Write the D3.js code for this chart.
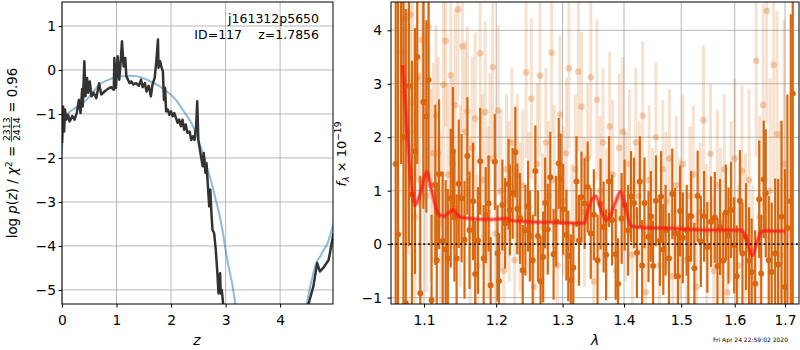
<!DOCTYPE html>
<html>
<head>
<meta charset="utf-8">
<script src="https://cdn.jsdelivr.net/npm/d3@7"></script>
<style>
  body { margin: 0; background: #fff; }
  text { font-family: "DejaVu Sans", sans-serif; }
</style>
</head>
<body>
<script>
// canvas
var width = 800
var height = 350

// ---- left panel: redshift probability ----
const pzTicksX = [0, 1, 2, 3, 4]
const pzTicksY = [-5, -4, -3, -2, -1, 0, 1]

// noisy log p(z) curve (dark)
const pzZ = [0, 0.02, 0.04, 0.055, 0.08, 0.11, 0.14, 0.19, 0.23, 0.27, 0.31, 0.34, 0.37, 0.38, 0.41, 0.43, 0.46, 0.48,
  0.51, 0.54, 0.58, 0.63, 0.68, 0.72, 0.78, 0.84, 0.9, 0.95, 0.96, 0.99, 1.02, 1.05, 1.08, 1.1, 1.13, 1.16, 1.18,
  1.21, 1.24, 1.27, 1.31, 1.36, 1.41, 1.45, 1.48, 1.52, 1.55, 1.59, 1.63, 1.66, 1.7, 1.73, 1.76, 1.77, 1.8, 1.82,
  1.85, 1.87, 1.89, 1.91, 1.94, 1.97, 2.0, 2.03, 2.06, 2.09, 2.12, 2.15, 2.18, 2.21, 2.24, 2.27, 2.3, 2.34, 2.37,
  2.4, 2.43, 2.46, 2.48, 2.5, 2.52, 2.55, 2.58, 2.6, 2.63, 2.65, 2.68, 2.7, 2.72, 2.74, 2.76, 2.79, 2.82, 2.85,
  2.87, 2.9, 2.91, 2.93, 2.96, 3.05, 3.3, 4.2, 4.45, 4.52, 4.61, 4.68, 4.73, 4.79, 4.89, 4.98]
const pzLog = [-1.66, -0.83, -1.4, -0.9, -1.13, -1.02, -1.17, -1.05, -1.13, -0.98, -0.68, -0.98, -0.43, -0.83, 0.2,
  -0.6, -0.18, -0.52, -0.26, -0.6, -0.52, -0.64, -0.3, -0.56, -0.49, -0.43, -0.39, -0.45, 0.27, -0.41, 0.31, -0.22,
  0.27, 0.65, 0.08, 0.27, -0.14, -0.22, -0.3, -0.26, -0.33, -0.3, -0.36, -0.22, -0.39, -0.3, -0.49, -0.36, -0.6,
  -0.33, -0.18, 0.2, 0.69, 0.05, 0.2, 0.08, -0.03, -0.68, -0.41, -0.94, -0.9, -1.02, -0.94, -1.05, -0.98, -1.09,
  -1.2, -1.13, -1.28, -1.13, -1.36, -1.24, -1.43, -1.4, -1.59, -1.51, -1.59, -1.28, -0.71, -1.59, -1.74, -1.97,
  -2.19, -1.89, -2.34, -2.12, -2.72, -3.1, -2.72, -3.25, -3.63, -3.71, -4.09, -4.62, -5.08, -4.62, -5.08, -5.0,
  -5.38, -6.5, -7.5, -7.5, -5.8, -5.32, -4.92, -4.39, -4.58, -4.5, -4.32, -3.71]

// smooth template fit (light blue)
const fitZ = [0, 0.02, 0.05, 0.1, 0.2, 0.3, 0.45, 0.6, 0.69, 0.8, 0.9, 1.0, 1.12, 1.25, 1.36, 1.45, 1.54, 1.65,
  1.79, 1.9, 2.03, 2.12, 2.21, 2.3, 2.37, 2.45, 2.52, 2.58, 2.64, 2.7, 2.76, 2.82, 2.88, 2.94, 3.0, 3.06, 3.13,
  3.2, 3.3, 3.5, 3.8, 4.1, 4.35, 4.49, 4.58, 4.67, 4.73, 4.8, 4.87, 4.92, 4.98]
const fitLog = [-1.9, -1.3, -1.1, -1.0, -0.9, -0.82, -0.68, -0.45, -0.33, -0.25, -0.2, -0.16, -0.14, -0.13, -0.14,
  -0.17, -0.21, -0.28, -0.37, -0.47, -0.6, -0.73, -0.9, -1.06, -1.2, -1.42, -1.66, -1.88, -2.12, -2.38, -2.65,
  -2.95, -3.25, -3.62, -4.09, -4.5, -4.92, -5.5, -6.2, -7.0, -7.4, -7.0, -6.1, -5.3, -4.77, -4.36, -4.25, -4.09,
  -3.94, -3.75, -3.48]

// ---- right panel: spectrum ----
const specTicksX = [1.1, 1.2, 1.3, 1.4, 1.5, 1.6, 1.7]
const specTicksY = [-1, 0, 1, 2, 3, 4]

// faint (second) spectrum
const lightWave = [1.071, 1.075, 1.079, 1.082, 1.085, 1.088, 1.091, 1.094, 1.097, 1.100, 1.103, 1.106, 1.109, 1.112,
  1.116, 1.119, 1.122, 1.126, 1.129, 1.132, 1.136, 1.139, 1.142, 1.146, 1.149, 1.152, 1.156, 1.159, 1.163, 1.166,
  1.170, 1.173, 1.177, 1.180, 1.184, 1.188, 1.191, 1.195, 1.199, 1.203, 1.207, 1.211, 1.215, 1.219, 1.223, 1.227,
  1.231, 1.235, 1.239, 1.244, 1.248, 1.252, 1.256, 1.261, 1.265, 1.269, 1.274, 1.278, 1.283, 1.287, 1.292, 1.296,
  1.301, 1.306, 1.310, 1.315, 1.320, 1.325, 1.330, 1.335, 1.340, 1.345, 1.350, 1.355, 1.360, 1.365, 1.371, 1.376,
  1.381, 1.387, 1.392, 1.398, 1.403, 1.409, 1.414, 1.420, 1.426, 1.432, 1.437, 1.443, 1.449, 1.455, 1.461, 1.467,
  1.473, 1.479, 1.485, 1.491, 1.497, 1.503, 1.510, 1.516, 1.522, 1.528, 1.535, 1.541, 1.547, 1.554, 1.560, 1.567,
  1.573, 1.580, 1.586, 1.593, 1.600, 1.607, 1.614, 1.621, 1.628, 1.635, 1.642, 1.649, 1.656, 1.663, 1.670, 1.677,
  1.684, 1.691, 1.698]
const lightFlux = [3.6, 4.22, 2.1, 4.29, 2.66, 0.5, 3.12, 1.2, 3.82, 2.66, 0.9, 4.06, 1.1, 1.7, 2.4, 1.7, 0.4, 2.98,
  3.8, 1.3, 3.16, 1.5, 2.6, 4.39, 0.9, 3.7, 2.1, 2.48, 0.3, 1.8, 2.35, -0.4, 3.57, 1.2, 2.47, 0.6, 1.6, 3.31, 0.2,
  2.5, 1.0, -0.5, 1.4, 0.8, 1.9, -0.3, 1.3, 0.5, 1.1, 3.21, 0.7, 2.72, -0.8, 1.5, 3.15, 0.3, 1.9, 0.9, 3.58, 1.2,
  -0.4, 2.42, 0.8, 1.7, 3.29, 0.1, 1.4, 3.23, 2.57, 0.6, 1.6, 3.12, -0.7, 2.7, 1.0, 1.9, 0.4, 2.2, 1.3, -0.5, 1.8,
  2.1, 0.7, 1.5, -0.2, 1.9, 0.9, 2.4, -0.9, 1.2, 0.5, 2.0, -0.4, 1.4, 0.8, 1.6, -0.6, 1.1, 0.3, 1.5, -0.3, 0.9,
  1.3, -0.8, 0.6, 2.32, 0.2, 1.69, -0.5, 1.1, 0.4, 1.4, -0.9, 0.8, 1.6, -0.4, 1.37, 0.1, 1.2, -0.6, 3.43, 0.5,
  2.6, 4.36, 1.0, 3.35, 2.06, -0.2, 1.5]
const lightErr = [2.0, 2.0, 2.3, 2.1, 2.0, 2.1, 1.9, 2.0, 1.8, 1.9, 1.8, 1.7, 1.8, 1.7,
  1.7, 1.8, 1.7, 1.7, 1.6, 1.7, 1.7, 1.6, 1.8, 1.7, 1.7, 1.6, 1.7, 1.6, 1.7, 1.7,
  1.6, 1.7, 1.6, 1.6, 1.7, 1.6, 1.6, 1.7, 1.5, 1.6, 1.5, 1.4, 1.4, 1.5, 1.4, 1.4,
  1.5, 1.4, 1.4, 1.6, 1.4, 1.5, 1.4, 1.5, 1.5, 1.4, 1.4, 1.4, 1.5, 1.4, 1.4, 1.5,
  1.4, 1.4, 1.5, 1.4, 1.4, 1.5, 1.4, 1.4, 1.4, 1.5, 1.4, 1.5, 1.4, 1.4, 1.4, 1.4,
  1.4, 1.4, 1.4, 1.4, 1.4, 1.4, 1.4, 1.4, 1.4, 1.4, 1.4, 1.4, 1.3, 1.4, 1.3, 1.3,
  1.3, 1.3, 1.3, 1.3, 1.3, 1.3, 1.3, 1.3, 1.3, 1.4, 1.3, 1.4, 1.3, 1.3, 1.4, 1.4,
  1.4, 1.4, 1.5, 1.5, 1.5, 1.5, 1.6, 1.6, 1.7, 1.7, 1.8, 1.9, 1.9, 2.1, 2.1, 2.3,
  2.3, 2.5, 2.7]

// main spectrum (dark orange)
const darkWave = [1.063, 1.066, 1.070, 1.073, 1.076, 1.080, 1.084, 1.088, 1.091, 1.095, 1.099, 1.103, 1.106, 1.110,
  1.115, 1.117, 1.120, 1.125, 1.129, 1.132, 1.136, 1.139, 1.141, 1.144, 1.147, 1.151, 1.155, 1.159, 1.162, 1.167,
  1.170, 1.174, 1.177, 1.182, 1.185, 1.189, 1.192, 1.198, 1.202, 1.204, 1.209, 1.213, 1.218, 1.220, 1.224, 1.228,
  1.231, 1.235, 1.239, 1.243, 1.247, 1.250, 1.254, 1.258, 1.262, 1.266, 1.270, 1.273, 1.277, 1.281, 1.286, 1.290,
  1.294, 1.297, 1.301, 1.306, 1.309, 1.313, 1.317, 1.322, 1.326, 1.330, 1.335, 1.340, 1.345, 1.350, 1.356, 1.361,
  1.366, 1.370, 1.375, 1.380, 1.386, 1.390, 1.396, 1.401, 1.407, 1.412, 1.417, 1.422, 1.427, 1.431, 1.435, 1.442,
  1.446, 1.450, 1.455, 1.462, 1.464, 1.468, 1.472, 1.478, 1.484, 1.489, 1.494, 1.498, 1.503, 1.510, 1.513, 1.518,
  1.524, 1.530, 1.536, 1.542, 1.548, 1.555, 1.562, 1.567, 1.572, 1.578, 1.583, 1.588, 1.593, 1.599, 1.604, 1.610,
  1.615, 1.622, 1.628, 1.633, 1.640, 1.648, 1.652, 1.657, 1.661, 1.667, 1.673, 1.680, 1.686, 1.693, 1.700, 1.705,
  1.712, 1.716]
const darkFlux = [1.5, 0.18, 4.8, 2.0, -1.1, 2.96, 0.93, 1.74, 3.5, -0.92, 2.66, 2.39, 3.07, -1.05, 1.11, -0.3, 1.31,
  0.06, -0.1, -0.27, 0.86, 1.74, 0.5, -0.27, 1.13, 0.86, 0.08, 1.65, 0.26, 0.8, -0.56, 0.07, 1.55, -0.27, 0.54, 0.76,
  -0.77, 1.54, -0.17, -0.69, 0.73, 0.39, 1.12, 0.64, 0.95, 1.72, 0.66, 0.48, -0.49, 0.26, 0.71, 0.15, -0.3, 1.37,
  0.15, -0.7, -0.24, 0.77, 0.28, 1.25, -0.19, 0.43, 1.51, 1.22, 0.65, 0.17, -0.22, -0.67, -0.44, 1.17, 0.07, 0.88,
  0.76, 1.07, 0.2, 0.55, -0.3, 0.75, 0.32, -0.2, 1.17, 0.45, -0.19, -0.74, 0.48, 0.73, 0.26, 0.89, 0.77, -0.16, 1.17,
  -0.4, 0.77, 0.14, 0.52, -0.41, 0.81, 0.07, 0.89, -0.1, 0.26, -0.27, 0.94, 0.2, -0.6, 0.62, 0.12, 0.26, -0.27, 0.52,
  -0.45, 0.9, 0.05, 0.52, -0.06, 0.42, 0.5, -0.41, 0.32, -0.31, 0.59, 0.16, 0.64, -0.02, -0.6, 0.81, -0.17, 0.14,
  -0.31, -0.52, -0.74, 0.84, -0.55, 1.21, 0.95, -0.3, -0.52, -0.17, -0.38, 0.51, -0.8, 0.3, 0.8, 2.82]
const darkErr = [6.0, 5.0, 3.3, 4.0, 5.5, 3.0, 2.5, 2.3, 2.0, 2.2, 2.0, 1.8, 1.9, 1.6, 1.5, 1.4, 1.4, 1.3, 1.3, 1.3,
  1.3, 1.2, 1.2, 1.2, 1.2, 1.2, 1.1, 1.1, 1.1, 1.1, 1.0, 1.0, 1.0, 1.0, 0.9, 0.9, 0.9, 0.9, 0.9, 0.9, 0.85, 0.85,
  0.85, 0.85, 0.85, 0.85, 0.85, 0.85, 0.85, 0.85, 0.85, 0.85, 0.85, 0.85, 0.85, 0.85, 0.85, 0.85, 0.85, 0.85, 0.85,
  0.85, 0.85, 0.85, 0.85, 0.85, 0.85, 0.85, 0.85, 0.85, 0.85, 0.85, 0.85, 0.85, 0.85, 0.85, 0.85, 0.85, 0.85, 0.85,
  0.85, 0.85, 0.85, 0.85, 0.85, 0.85, 0.85, 0.85, 0.85, 0.85, 0.85, 0.85, 0.85, 0.85, 0.85, 0.85, 0.85, 0.85, 0.85,
  0.85, 0.85, 0.85, 0.85, 0.85, 0.85, 0.85, 0.85, 0.85, 0.85, 0.85, 0.85, 0.85, 0.85, 0.85, 0.85, 0.85, 0.85, 0.9,
  0.9, 0.9, 0.9, 0.9, 0.9, 0.9, 0.95, 0.95, 0.95, 1.0, 1.0, 1.0, 1.0, 1.1, 1.1, 1.1, 1.2, 1.2, 1.3, 1.4, 1.6, 1.8,
  2.2, 2.5, 3.5, 5.0, 6.0]

// best-fit model (red)
const modelWave = [1.0721, 1.078, 1.0838, 1.088, 1.095, 1.1036, 1.110, 1.119, 1.126, 1.139, 1.148, 1.162, 1.19,
  1.215, 1.222, 1.249, 1.302, 1.334, 1.342, 1.353, 1.362, 1.370, 1.378, 1.387, 1.394, 1.402, 1.412, 1.429, 1.469,
  1.527, 1.6125, 1.621, 1.628, 1.634, 1.641, 1.6497, 1.66, 1.70]
const modelFlux = [3.35, 2.08, 1.07, 0.73, 0.95, 1.35, 1.01, 0.57, 0.52, 0.64, 0.51, 0.48, 0.46, 0.48, 0.44, 0.42,
  0.40, 0.39, 0.70, 0.9, 0.64, 0.45, 0.57, 0.82, 0.98, 0.7, 0.34, 0.31, 0.3, 0.27, 0.26, 0.14, -0.08, -0.22, -0.05,
  0.2, 0.25, 0.24]

const ORANGE = '#d8670f'
const TICK_FONT = 13.9

const svg = d3.select('body').append('svg')
  .attr('width', width).attr('height', height)
  .style('background', '#fff')

// scales
const zx = d3.scaleLinear().domain([0, 4.97]).range([62, 333])
const zy = d3.scaleLinear().domain([-5.32, 1.545]).range([304, 2])
const lx = d3.scaleLog().domain([1.057, 1.729]).range([391, 799])
const ly = d3.scaleLinear().domain([-1.12, 4.53]).range([304, 2])

const defs = svg.append('defs')
defs.append('clipPath').attr('id', 'clipL').append('rect')
  .attr('x', 62).attr('y', 2).attr('width', 271).attr('height', 302)
defs.append('clipPath').attr('id', 'clipR').append('rect')
  .attr('x', 391).attr('y', 2).attr('width', 408).attr('height', 302)

// grid helper
function grid(xs, ys, xt, yt) {
  const g = svg.append('g').attr('stroke', '#b0b0b0').attr('stroke-width', 0.9)
  g.selectAll('.gx').data(xt).enter().append('line')
    .attr('x1', d => xs(d)).attr('x2', d => xs(d))
    .attr('y1', ys.range()[0]).attr('y2', ys.range()[1])
  g.selectAll('.gy').data(yt).enter().append('line')
    .attr('y1', d => ys(d)).attr('y2', d => ys(d))
    .attr('x1', xs.range()[0]).attr('x2', xs.range()[1])
}
grid(zx, zy, pzTicksX, pzTicksY)
grid(lx, ly, specTicksX, specTicksY)

// left panel curves
const plotL = svg.append('g').attr('clip-path', 'url(#clipL)')
plotL.append('path')
  .datum(d3.zip(fitZ, fitLog))
  .attr('d', d3.line().curve(d3.curveMonotoneX).x(d => zx(d[0])).y(d => zy(d[1])))
  .attr('fill', 'none').attr('stroke', '#1f77b4').attr('stroke-opacity', 0.5).attr('stroke-width', 2)
plotL.append('path')
  .datum(d3.zip(pzZ, pzLog))
  .attr('d', d3.line().x(d => zx(d[0])).y(d => zy(d[1])))
  .attr('fill', 'none').attr('stroke', '#333').attr('stroke-width', 2.5).attr('stroke-linejoin', 'round')

// right panel spectra
const plotR = svg.append('g').attr('clip-path', 'url(#clipR)')

function errorbars(g, wave, flux, err, barW, radius, barOpacity, dotOpacity) {
  const pts = d3.zip(wave, flux, err)
  g.selectAll(null).data(pts).enter().append('line')
    .attr('x1', d => lx(d[0])).attr('x2', d => lx(d[0]))
    .attr('y1', d => ly(d[1] - d[2])).attr('y2', d => ly(d[1] + d[2]))
    .attr('stroke', ORANGE).attr('stroke-width', barW).attr('stroke-opacity', barOpacity)
  g.selectAll(null).data(pts).enter().append('circle')
    .attr('cx', d => lx(d[0])).attr('cy', d => ly(d[1])).attr('r', radius)
    .attr('fill', ORANGE).attr('fill-opacity', dotOpacity)
}
errorbars(plotR.append('g'), lightWave, lightFlux, lightErr, 3, 3.3, 0.2, 0.3)
errorbars(plotR.append('g'), darkWave, darkFlux, darkErr, 2.2, 3, 1, 1)

plotR.append('path')
  .datum(d3.zip(modelWave, modelFlux))
  .attr('d', d3.line().curve(d3.curveMonotoneX).x(d => lx(d[0])).y(d => ly(d[1])))
  .attr('fill', 'none').attr('stroke', '#ff0000').attr('stroke-opacity', 0.35).attr('stroke-width', 4.5)
plotR.append('path')
  .datum(d3.zip(modelWave, modelFlux))
  .attr('d', d3.line().curve(d3.curveMonotoneX).x(d => lx(d[0])).y(d => ly(d[1])))
  .attr('fill', 'none').attr('stroke', '#ff1a1a').attr('stroke-opacity', 0.7).attr('stroke-width', 2)

plotR.append('line')
  .attr('x1', 391).attr('x2', 799).attr('y1', ly(0)).attr('y2', ly(0))
  .attr('stroke', '#111').attr('stroke-width', 1.6).attr('stroke-dasharray', '2,2.6')

// axes
function styleAxis(g) {
  g.selectAll('text').attr('font-size', TICK_FONT).attr('fill', '#000').attr('font-family', 'DejaVu Sans')
  g.selectAll('line').attr('stroke', '#000')
  g.select('.domain').remove()
}
svg.append('g').attr('transform', 'translate(0,304)')
  .call(d3.axisBottom(zx).tickValues(pzTicksX).tickSize(3.5).tickPadding(7.5).tickFormat(d3.format('d')))
  .call(styleAxis)
svg.append('g').attr('transform', 'translate(62,0)')
  .call(d3.axisLeft(zy).tickValues(pzTicksY).tickSize(3.5).tickPadding(2.5).tickFormat(d3.format('d')))
  .call(styleAxis)
svg.append('g').attr('transform', 'translate(0,304)')
  .call(d3.axisBottom(lx).tickValues(specTicksX).tickSize(3.5).tickPadding(7.5).tickFormat(d3.format('.1f')))
  .call(styleAxis)
svg.append('g').attr('transform', 'translate(391,0)')
  .call(d3.axisLeft(ly).tickValues(specTicksY).tickSize(3.5).tickPadding(5.5).tickFormat(d3.format('d')))
  .call(styleAxis)

// frames
svg.append('rect').attr('x', 62).attr('y', 2).attr('width', 271).attr('height', 302)
  .attr('fill', 'none').attr('stroke', '#000').attr('stroke-width', 1)
svg.append('rect').attr('x', 391).attr('y', 2).attr('width', 408).attr('height', 302)
  .attr('fill', 'none').attr('stroke', '#000').attr('stroke-width', 1)

// annotations
svg.append('text').attr('x', 319).attr('y', 23).attr('text-anchor', 'end').attr('font-size', 12.5).text('j161312p5650')
svg.append('text').attr('x', 242).attr('y', 38.5).attr('text-anchor', 'end').attr('font-size', 12.5).text('ID=117')
svg.append('text').attr('x', 319).attr('y', 38.5).attr('text-anchor', 'end').attr('font-size', 12.5).text('z=1.7856')

svg.append('text').attr('x', 197).attr('y', 345).attr('text-anchor', 'middle').attr('font-size', TICK_FONT)
  .attr('font-style', 'italic').text('z')
svg.append('text').attr('x', 595).attr('y', 345).attr('text-anchor', 'middle').attr('font-size', TICK_FONT)
  .attr('font-style', 'italic').text('λ')
svg.append('text').attr('x', 788).attr('y', 342).attr('text-anchor', 'end').attr('font-size', 6).text('Fri Apr 24 22:59:02 2020')

// rotated math-like labels built from pieces
function richLabel(cx, cy, fs, parts) {
  const small = fs * 0.7
  const outer = svg.append('g').attr('transform', 'translate(' + cx + ',' + cy + ') rotate(-90)')
  const g = outer.append('g')
  let x = 0
  parts.forEach(p => {
    if (p.frac) {
      const a = g.append('text').attr('font-size', small).attr('y', -7.5).attr('text-anchor', 'middle').text(p.frac[0])
      const b = g.append('text').attr('font-size', small).attr('y', 2.5).attr('text-anchor', 'middle').text(p.frac[1])
      const w = Math.max(a.node().getComputedTextLength(), b.node().getComputedTextLength()) + 1
      a.attr('x', x + w / 2)
      b.attr('x', x + w / 2)
      g.append('line').attr('x1', x).attr('x2', x + w).attr('y1', -5.6).attr('y2', -5.6)
        .attr('stroke', '#000').attr('stroke-width', 0.8)
      x += w
    } else {
      const t = g.append('text').attr('x', x).attr('y', p.dy || 0)
        .attr('font-size', p.sub ? small : fs)
        .attr('font-style', p.italic ? 'italic' : null)
        .attr('xml:space', 'preserve').style('white-space', 'pre')
        .text(p.t)
      x += t.node().getComputedTextLength()
    }
  })
  g.attr('transform', 'translate(' + (-x / 2) + ',0)')
}

richLabel(17, 153, 13.3, [
  { t: 'log ' }, { t: 'p', italic: true }, { t: '(' }, { t: 'z', italic: true }, { t: ') / ' },
  { t: 'χ', italic: true }, { t: '2', sub: true, dy: -5.5 }, { t: ' = ' },
  { frac: ['2313', '2414'] }, { t: ' = 0.96' }
])
richLabel(346, 154, 13, [
  { t: 'f', italic: true }, { t: 'λ', italic: true, sub: true, dy: 3 }, { t: ' × 10' },
  { t: '−19', sub: true, dy: -5.5 }
])
</script>
</body>
</html>
